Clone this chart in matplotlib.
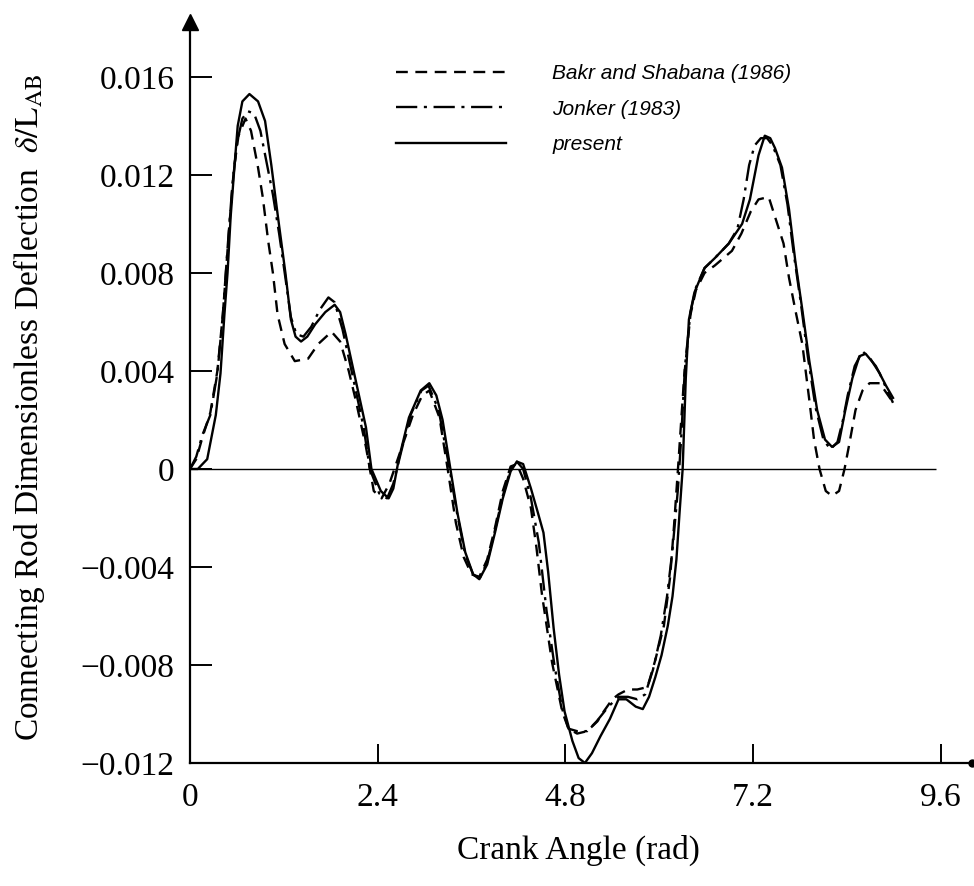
import matplotlib
matplotlib.use("Agg")
import matplotlib.pyplot as plt

plt.rcParams['font.family'] = ['Liberation Serif', 'DejaVu Serif']
plt.rcParams['mathtext.fontset'] = 'stix'

# ---------------- data ----------------
present_x = [0.00, 0.10, 0.22, 0.33, 0.39, 0.44, 0.48, 0.52, 0.57, 0.61, 0.67, 0.76, 0.87, 0.96,
             1.04, 1.12, 1.22, 1.29, 1.35, 1.42, 1.50, 1.60, 1.73, 1.85, 1.92, 1.99, 2.12, 2.25,
             2.32, 2.44, 2.54, 2.60, 2.67, 2.80, 2.95, 3.06, 3.15, 3.23, 3.33, 3.42, 3.52, 3.62,
             3.70, 3.80, 3.90, 4.00, 4.10, 4.18, 4.26, 4.36, 4.45, 4.52, 4.58, 4.65, 4.72, 4.79,
             4.89, 4.97, 5.05, 5.14, 5.25, 5.37, 5.48, 5.58, 5.70, 5.79, 5.87, 5.95, 6.03, 6.11,
             6.17, 6.22, 6.26, 6.30, 6.34, 6.38, 6.45, 6.58, 6.71, 6.89, 7.06, 7.16, 7.27, 7.35,
             7.42, 7.48, 7.57, 7.66, 7.74, 7.83, 7.92, 8.02, 8.12, 8.21, 8.30, 8.38, 8.47, 8.56,
             8.64, 8.77, 8.90, 8.99]
present_y = [0.0000, 0.0000, 0.0004, 0.0022, 0.0039, 0.0063, 0.0080, 0.0103, 0.0124, 0.0140,
             0.0150, 0.0153, 0.0150, 0.0142, 0.0124, 0.0104, 0.0080, 0.0061, 0.0054, 0.0052,
             0.0054, 0.0059, 0.0064, 0.0067, 0.0064, 0.0055, 0.0036, 0.0017, 0.0000, -0.0009,
             -0.0012, -0.0008, 0.0004, 0.0021, 0.0032, 0.0035, 0.0030, 0.0020, 0.0000, -0.0018,
             -0.0034, -0.0043, -0.0045, -0.0039, -0.0026, -0.0012, -0.0001, 0.0003, 0.0002,
             -0.0008, -0.0018, -0.0026, -0.0042, -0.0065, -0.0084, -0.0099, -0.0111, -0.0118,
             -0.0120, -0.0116, -0.0109, -0.0102, -0.0094, -0.0094, -0.0097, -0.0098, -0.0093,
             -0.0085, -0.0076, -0.0064, -0.0052, -0.0037, -0.0018, 0.0000, 0.0037, 0.0061,
             0.0072, 0.0082, 0.0086, 0.0092, 0.0100, 0.0110, 0.0128, 0.0136, 0.0135, 0.0131,
             0.0123, 0.0106, 0.0085, 0.0065, 0.0044, 0.0024, 0.0012, 0.0009, 0.0011, 0.0024,
             0.0037, 0.0046, 0.0047, 0.0042, 0.0034, 0.0029]

bakr_x = [0.00, 0.08, 0.16, 0.26, 0.35, 0.42, 0.50, 0.56, 0.62, 0.71, 0.78, 0.87, 0.93, 1.00,
          1.06, 1.12, 1.21, 1.34, 1.51, 1.64, 1.81, 1.92, 2.03, 2.12, 2.25, 2.35, 2.45, 2.55,
          2.71, 2.85, 2.97, 3.06, 3.19, 3.30, 3.40, 3.50, 3.60, 3.70, 3.80, 3.90, 4.00, 4.10,
          4.18, 4.26, 4.36, 4.43, 4.50, 4.63, 4.76, 4.84, 4.95, 5.08, 5.21, 5.29, 5.40, 5.48,
          5.60, 5.72, 5.85, 5.95, 6.06, 6.14, 6.19, 6.24, 6.32, 6.40, 6.47, 6.58, 6.71, 6.82,
          6.93, 7.05, 7.17, 7.27, 7.40, 7.50, 7.59, 7.66, 7.74, 7.83, 7.92, 7.98, 8.05, 8.13,
          8.21, 8.30, 8.37, 8.43, 8.51, 8.60, 8.69, 8.82, 8.95, 8.99]
bakr_y = [0.0000, 0.0004, 0.0013, 0.0023, 0.0040, 0.0063, 0.0098, 0.0122, 0.0136, 0.0143,
          0.0138, 0.0123, 0.0111, 0.0093, 0.0080, 0.0063, 0.0051, 0.0044, 0.0045, 0.0051,
          0.0056, 0.0052, 0.0040, 0.0028, 0.0009, -0.0009, -0.0012, -0.0006, 0.0009, 0.0022,
          0.0030, 0.0032, 0.0021, -0.0001, -0.0022, -0.0036, -0.0043, -0.0044, -0.0037,
          -0.0024, -0.0009, 0.0001, 0.0002, -0.0004, -0.0016, -0.0032, -0.0051, -0.0079,
          -0.0099, -0.0106, -0.0108, -0.0107, -0.0103, -0.0099, -0.0094, -0.0092, -0.0090,
          -0.0090, -0.0089, -0.0078, -0.0064, -0.0044, -0.0023, 0.0000, 0.0038, 0.0063,
          0.0073, 0.0080, 0.0083, 0.0086, 0.0089, 0.0096, 0.0105, 0.0110, 0.0111, 0.0101,
          0.0092, 0.0078, 0.0065, 0.0051, 0.0028, 0.0012, 0.0000, -0.0009, -0.0011, -0.0009,
          0.0000, 0.0010, 0.0024, 0.0032, 0.0035, 0.0035, 0.0029, 0.0026]

jonker_x = [0.00, 0.08, 0.16, 0.26, 0.35, 0.42, 0.48, 0.54, 0.60, 0.67, 0.74, 0.82, 0.90, 0.98,
            1.06, 1.14, 1.22, 1.29, 1.36, 1.45, 1.55, 1.66, 1.77, 1.85, 1.95, 2.08, 2.22, 2.30,
            2.42, 2.52, 2.60, 2.70, 2.82, 2.96, 3.05, 3.18, 3.32, 3.42, 3.52, 3.62, 3.70, 3.80,
            3.90, 4.00, 4.10, 4.18, 4.26, 4.36, 4.46, 4.56, 4.66, 4.76, 4.84, 4.95, 5.08, 5.20,
            5.35, 5.48, 5.60, 5.72, 5.82, 5.92, 6.02, 6.10, 6.17, 6.24, 6.28, 6.33, 6.40, 6.47,
            6.58, 6.71, 6.89, 7.00, 7.08, 7.15, 7.22, 7.30, 7.38, 7.45, 7.55, 7.64, 7.72, 7.81,
            7.90, 8.00, 8.10, 8.19, 8.28, 8.35, 8.41, 8.50, 8.60, 8.70, 8.82, 8.93, 8.99]
jonker_y = [0.0000, 0.0005, 0.0014, 0.0022, 0.0039, 0.0063, 0.0090, 0.0115, 0.0133, 0.0143,
            0.0146, 0.0145, 0.0138, 0.0125, 0.0112, 0.0096, 0.0078, 0.0062, 0.0055, 0.0054,
            0.0058, 0.0065, 0.0070, 0.0068, 0.0057, 0.0038, 0.0017, 0.0000, -0.0010, -0.0012,
            -0.0006, 0.0007, 0.0022, 0.0032, 0.0034, 0.0024, 0.0000, -0.0019, -0.0035, -0.0043,
            -0.0045, -0.0038, -0.0025, -0.0011, 0.0000, 0.0003, 0.0000, -0.0012, -0.0030,
            -0.0058, -0.0080, -0.0098, -0.0106, -0.0107, -0.0107, -0.0103, -0.0097, -0.0093,
            -0.0093, -0.0094, -0.0092, -0.0082, -0.0068, -0.0052, -0.0033, -0.0008, 0.0012,
            0.0042, 0.0064, 0.0074, 0.0082, 0.0086, 0.0092, 0.0098, 0.0110, 0.0124, 0.0132,
            0.0135, 0.0135, 0.0132, 0.0124, 0.0108, 0.0088, 0.0068, 0.0046, 0.0025, 0.0012,
            0.0008, 0.0011, 0.0020, 0.0030, 0.0042, 0.0048, 0.0045, 0.0039, 0.0031, 0.0027]

labels = ['Bakr and Shabana (1986)', 'Jonker (1983)', 'present']
xticks = [0, 2.4, 4.8, 7.2, 9.6]
xtick_labels = ['0', '2.4', '4.8', '7.2', '9.6']
yticks = [-0.012, -0.008, -0.004, 0, 0.004, 0.008, 0.012, 0.016]
ytick_labels = ['\u22120.012', '\u22120.008', '\u22120.004', '0', '0.004', '0.008', '0.012', '0.016']
zero_line_end = 9.54
xlim = (0.0, 10.0)
ylim = (-0.012, 0.01824)

# ---------------- figure ----------------
W, H = 974, 886
fig = plt.figure(figsize=(W / 100, H / 100), dpi=100)
ax = fig.add_axes([190 / W, 1 - 763 / H, 782 / W, (763 - 22) / H])

lw = 1.7
ax.plot(bakr_x, bakr_y, color='black', lw=lw, dashes=(5.0, 3.2), label=labels[0])
ax.plot(jonker_x, jonker_y, color='black', lw=lw, dashes=(9, 2.8, 1.3, 2.8), label=labels[1])
ax.plot(present_x, present_y, color='black', lw=lw, label=labels[2])
ax.hlines(0, 0, zero_line_end, color='black', lw=1.0)

ax.set_xlim(*xlim)
ax.set_ylim(*ylim)
ax.set_xticks(xticks)
ax.set_xticklabels(xtick_labels)
ax.set_yticks(yticks)
ax.set_yticklabels(ytick_labels)

for s in ['top', 'right']:
    ax.spines[s].set_visible(False)
for s in ['left', 'bottom']:
    ax.spines[s].set_linewidth(1.6)

ax.tick_params(axis='y', direction='in', length=16, width=1.4, pad=11, labelsize=24)
ax.tick_params(axis='x', direction='in', length=14, width=1.4, pad=14, labelsize=24)

# axis end decorations
ax.plot(0, 1, marker='^', color='black', ms=11, transform=ax.transAxes, clip_on=False)
ax.plot(1, 0, marker='o', color='black', ms=5, transform=ax.transAxes, clip_on=False)

leg = ax.legend(loc='upper left', bbox_to_anchor=((396 - 190) / 782, (763 - 64) / 741),
                frameon=False, handlelength=5.3, handletextpad=2.2, labelspacing=0.8,
                borderpad=0, borderaxespad=0,
                prop={'family': 'Liberation Sans', 'style': 'italic', 'size': 15})

fig.text(578 / W, 1 - 850 / H, 'Crank Angle (rad)', ha='center', va='center', fontsize=24)
fig.text(29 / W, 1 - 408 / H,
         'Connecting Rod Dimensionless Deflection  $\\delta/\\mathrm{L}_{\\mathrm{AB}}$',
         rotation=90, ha='center', va='center', fontsize=24)

fig.savefig('out.png', dpi=100)
